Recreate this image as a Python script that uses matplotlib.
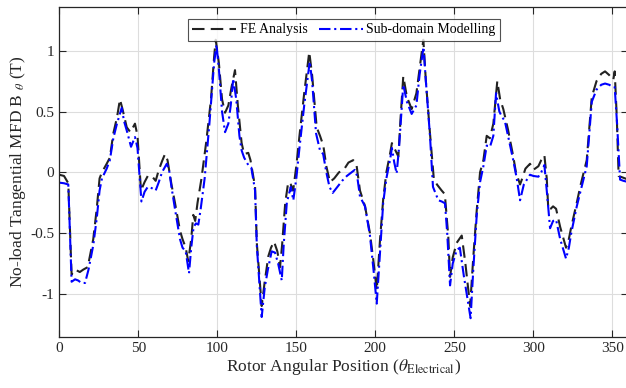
import matplotlib
matplotlib.use("Agg")
import matplotlib.pyplot as plt

plt.rcParams['font.family'] = ['Liberation Serif', 'DejaVu Serif']
plt.rcParams['mathtext.fontset'] = 'stix'

# FE Analysis (black dashed)
fe_x = [0, 3, 5.7, 7.8, 10, 13, 15.2, 18, 21.5, 23.7, 25.5, 27, 30, 32, 34.2, 36.5,
        38.4, 40, 42.7, 45, 47.9, 49.5, 51.7, 54, 56, 58.5, 61, 63, 65, 66.9, 68.5,
        71, 73.2, 76.4, 78, 80, 81.6, 83.5, 84.8, 86, 87.5, 90, 93, 96, 98, 99, 101,
        103, 104.9, 107, 109, 111.2, 113, 115.4, 117, 119.6, 121, 123.9, 125, 128.1,
        130, 132.3, 134, 135.9, 138, 139.7, 141, 143, 144.9, 146.5, 148, 150, 152,
        155, 158.2, 160, 162.9, 165, 167.1, 169, 171.3, 174, 177, 180, 183, 186, 188,
        190.3, 193.5, 196.6, 199, 200.9, 203, 205, 207, 209.3, 210.5, 212, 214.6, 216,
        217.7, 220, 223, 226, 228, 230.4, 232, 234.6, 237, 239, 242, 244, 246.2, 247.3,
        249, 251.5, 254.7, 257, 260, 262, 264.2, 266.3, 268.4, 270.5, 272.5, 274.7,
        277.2, 279, 281, 284, 287.3, 289, 291.6, 293, 295, 297.9, 300, 303.2, 305, 307,
        308.5, 309.5, 311, 312.5, 314.4, 317, 320.7, 322, 324, 327.5, 330, 333.8, 337,
        340, 343, 345.4, 348, 350.6, 351.5, 352.8, 354, 356, 360]
fe_y = [-0.02, -0.03, -0.09, -0.84, -0.80, -0.82, -0.80, -0.78, -0.55, -0.30, -0.05,
        0.0, 0.07, 0.12, 0.32, 0.45, 0.60, 0.52, 0.37, 0.33, 0.40, 0.30, -0.15, -0.08,
        -0.03, -0.03, -0.07, 0.02, 0.09, 0.15, 0.10, -0.10, -0.25, -0.48, -0.55, -0.62,
        -0.73, -0.55, -0.35, -0.40, -0.25, -0.05, 0.25, 0.60, 0.95, 1.09, 0.90, 0.60,
        0.49, 0.55, 0.70, 0.84, 0.55, 0.24, 0.15, 0.16, 0.10, -0.12, -0.58, -1.10,
        -0.90, -0.69, -0.62, -0.57, -0.65, -0.78, -0.60, -0.25, -0.08, -0.10, -0.15,
        0.05, 0.30, 0.65, 0.99, 0.80, 0.37, 0.30, 0.22, 0.05, -0.08, -0.05, 0.00, 0.02,
        0.08, 0.10, 0.07, -0.15, -0.28, -0.50, -0.75, -0.97, -0.55, -0.22, 0.0, 0.15,
        0.24, 0.20, 0.13, 0.45, 0.79, 0.62, 0.52, 0.65, 0.85, 1.09, 0.75, 0.32, -0.05,
        -0.10, -0.15, -0.18, -0.53, -0.86, -0.70, -0.58, -0.52, -0.75, -1.10, -0.70,
        -0.31, 0.0, 0.10, 0.30, 0.28, 0.40, 0.75, 0.60, 0.52, 0.35, 0.13, 0.0, -0.10,
        -0.05, 0.03, 0.07, 0.02, 0.05, 0.10, 0.14, -0.05, -0.31, -0.30, -0.28, -0.30,
        -0.45, -0.62, -0.58, -0.45, -0.25, -0.10, 0.10, 0.62, 0.75, 0.81, 0.83, 0.80,
        0.76, 0.83, 0.46, -0.03, -0.04, -0.06]

# Sub-domain Modelling (blue dash-dot)
sd_x = [0, 3, 5.7, 7.8, 10, 12, 14, 16.3, 18.5, 21.5, 23.7, 25.5, 27, 30, 32, 34.2,
        36.5, 39.5, 41, 43, 45.4, 47.9, 49.5, 52, 54, 56, 58.5, 61, 63, 65, 68, 69.5,
        71, 73.2, 76.4, 78, 80, 82.1, 83.5, 85, 86.5, 88, 89.5, 92, 95, 98, 99.5, 101,
        103, 104.9, 107, 108.5, 110.1, 112, 114, 115.4, 117, 119.6, 121.5, 123.9, 125,
        128.1, 130, 132, 134.4, 136.5, 138.5, 140.8, 142, 144, 146.5, 148.1, 150, 152,
        155, 158.5, 160, 162.5, 165, 167, 169, 171, 173, 176, 179, 182, 185, 187, 188.5,
        190.3, 193.5, 196.6, 199, 200.9, 203, 205, 207, 209.3, 210.5, 212, 213.5, 215,
        217.7, 220, 223, 226, 228, 230.5, 232, 234.6, 236.5, 239.9, 242, 244.1, 245.5,
        247.3, 249, 251.5, 253.5, 256, 260.3, 262, 264.2, 266.3, 268.4, 270.5, 272.6,
        274.7, 276.4, 278.5, 280, 282, 284, 287.3, 289.5, 291.6, 294, 297.9, 300, 303.2,
        305, 307, 308.5, 310.6, 312.5, 314.4, 317, 320.7, 322.5, 324, 327.5, 330, 333.8,
        337, 340, 343, 345.4, 348, 350.6, 351.5, 353, 354.9, 357, 360]
sd_y = [-0.085, -0.09, -0.10, -0.90, -0.88, -0.89, -0.91, -0.91, -0.80, -0.60, -0.38,
        -0.15, -0.05, 0.03, 0.10, 0.28, 0.40, 0.53, 0.42, 0.33, 0.21, 0.29, 0.20, -0.24,
        -0.16, -0.12, -0.13, -0.15, -0.08, 0.0, 0.07, 0.02, -0.12, -0.30, -0.55, -0.62,
        -0.65, -0.83, -0.62, -0.45, -0.42, -0.43, -0.30, -0.05, 0.40, 0.90, 1.05, 0.85,
        0.50, 0.33, 0.40, 0.55, 0.77, 0.60, 0.30, 0.18, 0.12, 0.06, 0.04, -0.15, -0.60,
        -1.19, -0.95, -0.80, -0.65, -0.66, -0.75, -0.89, -0.60, -0.25, -0.12, -0.23,
        -0.05, 0.20, 0.55, 0.91, 0.75, 0.32, 0.18, 0.15, 0.0, -0.12, -0.17, -0.12, -0.07,
        -0.03, 0.0, 0.02, -0.03, -0.20, -0.28, -0.52, -0.82, -1.08, -0.65, -0.25, -0.05,
        0.10, 0.20, 0.08, -0.01, 0.20, 0.72, 0.58, 0.48, 0.55, 0.80, 1.03, 0.75, 0.30,
        -0.12, -0.23, -0.24, -0.255, -0.50, -0.93, -0.75, -0.64, -0.62, -0.85, -1.20,
        -0.80, -0.35, -0.08, 0.05, 0.22, 0.21, 0.30, 0.65, 0.50, 0.46, 0.42, 0.30, 0.10,
        -0.05, -0.23, -0.10, -0.02, -0.03, -0.036, 0.0, 0.06, -0.15, -0.46, -0.40, -0.39,
        -0.55, -0.71, -0.62, -0.50, -0.28, -0.15, 0.05, 0.58, 0.68, 0.72, 0.73, 0.72,
        0.70, 0.70, 0.40, -0.06, -0.07, -0.08]

x_ticks = [0, 50, 100, 150, 200, 250, 300, 350]
y_ticks = [-1, -0.5, 0, 0.5, 1]
y_tick_labels = ['-1', '-0.5', '0', '0.5', '1']

fig = plt.figure(figsize=(6.26, 3.88), dpi=100)
ax = fig.add_axes([0.0947, 0.1322, 0.9087, 0.849])

ax.plot(fe_x, fe_y, color='#222222', linestyle=(0, (6, 3)), linewidth=1.5,
        label='FE Analysis')
ax.plot(sd_x, sd_y, color='#0000ff', linestyle=(0, (5.5, 1.8, 1, 1.8)), linewidth=1.5,
        label='Sub-domain Modelling')

ax.set_xlim(0, 360)
ax.set_ylim(-1.352, 1.357)
ax.set_xticks(x_ticks)
ax.set_yticks(y_ticks)
ax.set_yticklabels(y_tick_labels)
ax.grid(True, color='#dddddd', linewidth=0.8)
ax.set_axisbelow(True)
ax.tick_params(direction='in', top=True, right=True, labelsize=11, length=5,
               color='#262626', labelcolor='#262626')
for s in ax.spines.values():
    s.set_color('#262626')
    s.set_linewidth(0.9)

ax.set_xlabel(r'Rotor Angular Position ($\theta_{\mathrm{Electrical}}$)',
              fontsize=12.5, color='#262626', labelpad=2)
ax.set_ylabel(r'No-load Tangential MFD B $_{\theta}$ (T)', fontsize=12.5,
              color='#262626', labelpad=2)

leg = ax.legend(loc='upper center', bbox_to_anchor=(0.5, 0.9636), ncol=2,
                fontsize=10, frameon=True, fancybox=False, edgecolor='#262626',
                handlelength=3.2, columnspacing=0.8, borderpad=0.3,
                handletextpad=0.25, borderaxespad=0)
leg.get_frame().set_linewidth(0.8)

plt.savefig('out.png', dpi=100)
